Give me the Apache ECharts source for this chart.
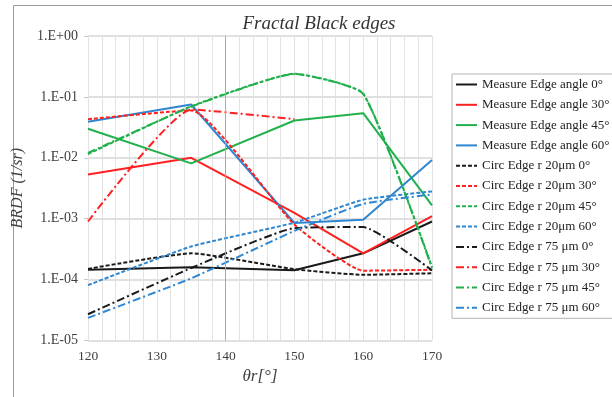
<!DOCTYPE html>
<html>
<head>
<meta charset="utf-8">
<script src="https://cdn.jsdelivr.net/npm/echarts@6/dist/echarts.min.js"></script>
<style>html,body{margin:0;padding:0;background:#fff}#c{width:612px;height:397px}</style>
</head>
<body>
<div id="c"></div>
<script>
const thetaR = [120, 135, 150, 160, 170];
const yTicks = ['1.E-05','1.E-04','1.E-03','1.E-02','1.E-01','1.E+00'];

const measure0  = [1.45e-4, 1.6e-4, 1.42e-4, 2.7e-4, 9.0e-4];
const measure30 = [5.3e-3, 1.0e-2, 1.25e-3, 2.7e-4, 1.1e-3];
const measure45 = [3.0e-2, 8.1e-3, 4.1e-2, 5.4e-2, 1.65e-3];
const measure60 = [3.9e-2, 7.5e-2, 8.5e-4, 9.6e-4, 9.2e-3];

const circ20_0  = [1.5e-4, 2.7e-4, 1.48e-4, 1.2e-4, 1.27e-4];
const circ20_30 = [4.3e-2, 6.0e-2, 8.0e-4, 1.4e-4, 1.45e-4];
const circ20_45 = [1.15e-2, 7.0e-2, 2.4e-1, 1.13e-1, 1.6e-4];
const circ20_60 = [8.1e-5, 3.5e-4, 8.6e-4, 2.05e-3, 2.8e-3];

const circ75_0  = [2.7e-5, 1.55e-4, 7.0e-4, 7.3e-4, 1.42e-4];
const circ75_30 = [9.0e-4, 6.2e-2, 4.3e-2, null, null];
const circ75_45 = [1.2e-2, 6.9e-2, 2.38e-1, 1.12e-1, 1.55e-4];
const circ75_60 = [2.35e-5, 1.05e-4, 6.3e-4, 1.75e-3, 2.5e-3];

const names = [
  'Measure Edge angle 0°','Measure Edge angle 30°','Measure Edge angle 45°','Measure Edge angle 60°',
  'Circ Edge r 20μm 0°','Circ Edge r 20μm 30°','Circ Edge r 20μm 45°','Circ Edge r 20μm 60°',
  'Circ Edge r 75 μm 0°','Circ Edge r 75 μm 30°','Circ Edge r 75 μm 45°','Circ Edge r 75 μm 60°'
];
const values = [measure0,measure30,measure45,measure60,circ20_0,circ20_30,circ20_45,circ20_60,circ75_0,circ75_30,circ75_45,circ75_60];
const colors = ['#1a1a1a','#ff2020','#22b04c','#2f86d1'];
const dashTypes = ['solid',[4,2],[8,3,2,3]];

const series = values.map((v,i)=>({
  name: names[i],
  type: 'line',
  symbol: 'none',
  smooth: i >= 4 ? 0.15 : false,
  connectNulls: false,
  data: thetaR.map((x,j)=>[x, v[j]]),
  lineStyle: {color: colors[i%4], width: 2, type: dashTypes[Math.floor(i/4)]},
  itemStyle: {color: colors[i%4]},
  z: 3
}));
series.push({
  type: 'line', data: [], silent: true, z: 1,
  markLine: {silent: true, symbol: 'none', label: {show: false},
    lineStyle: {color: '#a8a8a8', width: 1, type: 'solid'}, data: [{xAxis: 140}]}
});

const FONT = '"Liberation Serif", "Times New Roman", serif';
const chart = echarts.init(document.getElementById('c'), null, {renderer: 'canvas'});
chart.setOption({
  animation: false,
  backgroundColor: '#fff',
  title: {text: 'Fractal Black edges', left: 314, top: 9, textAlign: 'center',
    textStyle: {fontFamily: FONT, fontStyle: 'italic', fontWeight: 'normal', fontSize: 19, color: '#333'}},
  graphic: [{type: 'rect', shape: {x: 13.5, y: 5.5, width: 620, height: 420},
    style: {fill: 'none', stroke: '#9a9a9a', lineWidth: 1}, silent: true, z: -10}],
  grid: {left: 88, right: 180, top: 36, bottom: 56.5},
  legend: {
    data: names, orient: 'vertical', left: 452, top: 74,
    itemWidth: 21, itemHeight: 12, itemGap: 7.3,
    itemStyle: {opacity: 0},
    borderColor: '#b5b5b5', borderWidth: 1, padding: [4, 6, 4, 3],
    textStyle: {fontFamily: FONT, fontSize: 13, color: '#222', lineHeight: 12}
  },
  xAxis: {
    type: 'value', min: 120, max: 170, interval: 10,
    name: 'θr[°]', nameLocation: 'middle', nameGap: 27,
    nameTextStyle: {fontFamily: FONT, fontStyle: 'italic', fontSize: 17, color: '#404040'},
    axisLine: {show: false}, axisTick: {show: false},
    axisLabel: {fontFamily: FONT, fontSize: 13.5, color: '#404040', margin: 9},
    splitLine: {show: true, lineStyle: {color: '#e2e2e2', width: 1}},
    minorTick: {show: false, splitNumber: 5},
    minorSplitLine: {show: true, lineStyle: {color: '#e2e2e2', width: 1}}
  },
  yAxis: {
    type: 'log', logBase: 10, min: 1e-5, max: 1,
    name: 'BRDF (1/sr)', nameLocation: 'middle', nameGap: 62,
    nameTextStyle: {fontFamily: FONT, fontStyle: 'italic', fontSize: 16, color: '#404040'},
    axisLine: {show: false},
    axisTick: {show: true, length: 4, lineStyle: {color: '#c8c8c8'}},
    axisLabel: {fontFamily: FONT, fontSize: 14, color: '#404040', margin: 10,
      formatter: v => yTicks[Math.round(Math.log10(v)) + 5]},
    splitLine: {show: true, lineStyle: {color: '#d6d6d6', width: 1.5}}
  },
  series: series
});
</script>
</body>
</html>
